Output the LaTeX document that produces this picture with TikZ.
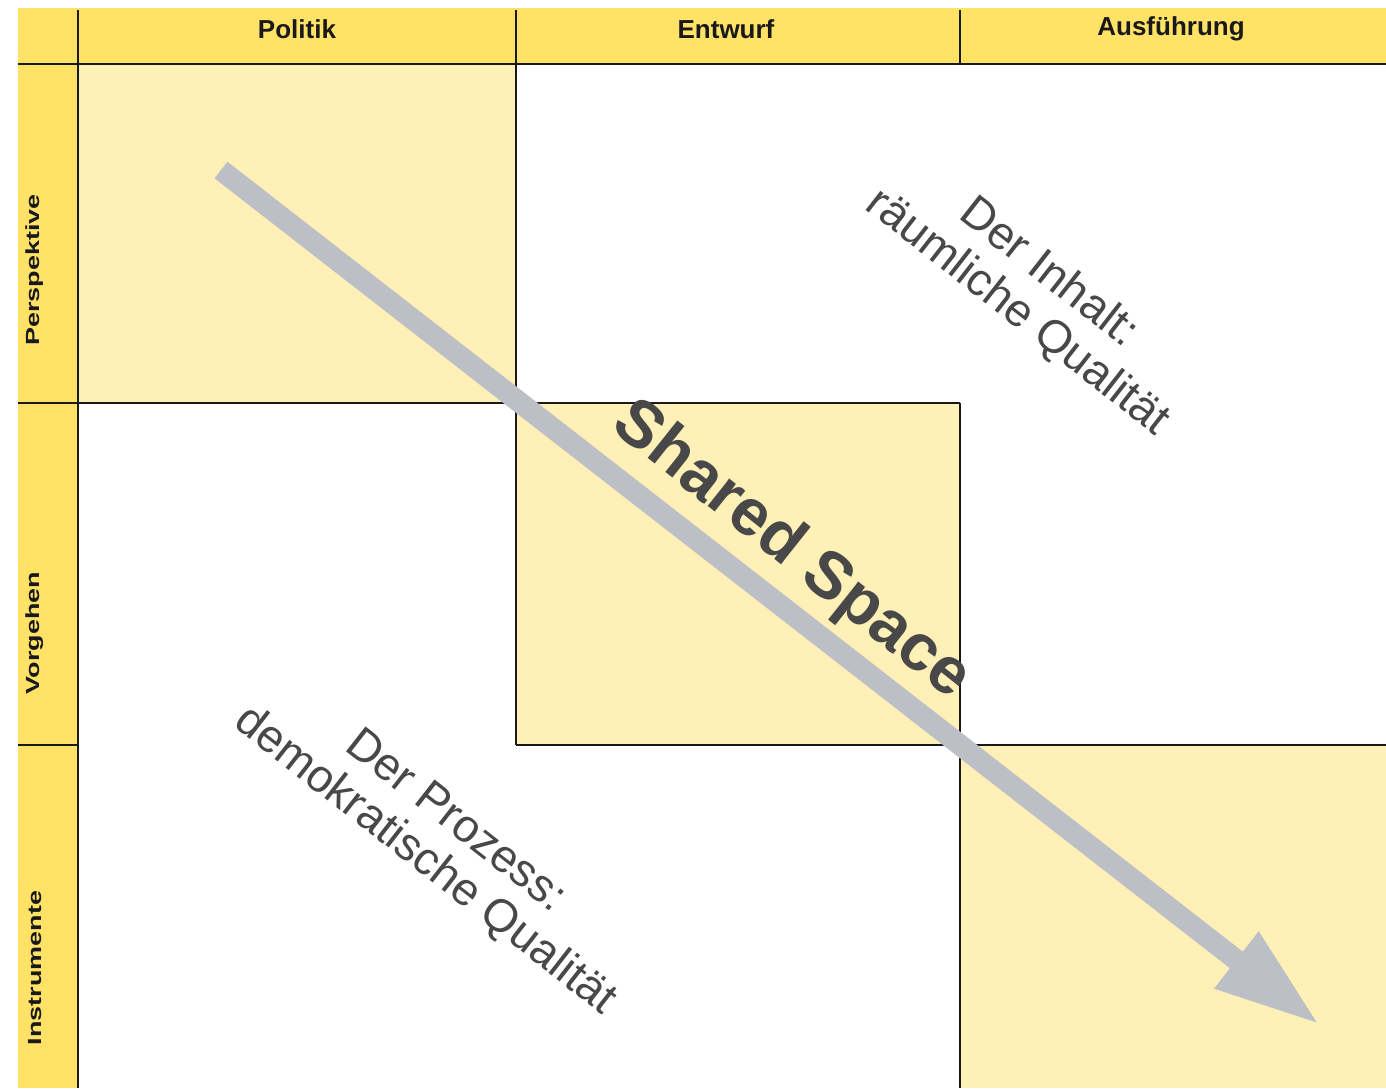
\documentclass[tikz,border=0pt]{standalone}
\usepackage{fontspec}
\setmainfont{Liberation Sans}
\usepackage{xcolor}
\usetikzlibrary{arrows.meta}
\definecolor{bandyellow}{HTML}{FFE266}
\definecolor{cellyellow}{HTML}{FFF0B8}
\definecolor{arrowgrey}{HTML}{BDBFC6}
\definecolor{textgrey}{HTML}{484848}
\tikzset{
    header-label/.style = {font=\fontsize{26}{28}\selectfont\bfseries, text=black!90, inner sep=0pt},
    side-label/.style = {font=\fontsize{19}{21}\selectfont\bfseries, text=black!90, inner sep=0pt, rotate=90, xscale=1.42},
    diagonal-text/.style = {font=\fontsize{46}{50}\selectfont, text=textgrey, align=center, inner sep=0pt, rotate=-38},
    shared-label/.style = {font=\fontsize{66}{70}\selectfont\bfseries, text=textgrey, inner sep=0pt, rotate=-38.5},
    grid-line/.style = {draw=black!90, line width=2.2pt},
    shared-arrow/.style = {draw=arrowgrey, line width=21pt, -{Triangle[width=66pt, length=106pt]}},
}

\begin{document}
\begin{tikzpicture}[x=1pt, y=-1pt]
\useasboundingbox (0,0) rectangle (1386,1088);
% bands and highlighted cells
\fill[bandyellow] (18,8) rectangle (1386,64);
\fill[bandyellow] (18,8) rectangle (78,1088);
\fill[cellyellow] (78,64) rectangle (516,403);
\fill[cellyellow] (516,403) rectangle (960,745);
\fill[cellyellow] (960,745) rectangle (1386,1088);
% grid
\draw[grid-line] (18,64) -- (1386,64);
\draw[grid-line] (78,10) -- (78,1088);
\draw[grid-line] (516,10) -- (516,745);
\draw[grid-line] (960,10) -- (960,64);
\draw[grid-line] (960,403) -- (960,1088);
\draw[grid-line] (18,403) -- (960,403);
\draw[grid-line] (18,745) -- (78,745);
\draw[grid-line] (516,745) -- (1386,745);
% headers
\node[header-label] (politik) at (297,29) {Politik};
\node[header-label] (entwurf) at (726,29) {Entwurf};
\node[header-label] (ausfuehrung) at (1171,29) {Ausführung};
\node[side-label] (perspektive) at (35,270) {Perspektive};
\node[side-label] (vorgehen) at (35,633) {Vorgehen};
\node[side-label] (instrumente) at (35,968) {Instrumente};
% arrow
\coordinate (arrow-start) at (221,170);
\coordinate (arrow-tip) at (1320,1025);
\draw[shared-arrow] (arrow-start) -- (arrow-tip);
% texts
\node[shared-label] (shared) at (791,551) {Shared Space};
\node[diagonal-text] (inhalt) at (1033,293) {Der Inhalt:\\räumliche Qualität};
\node[diagonal-text] (prozess) at (440,842) {Der Prozess:\\demokratische Qualität};
\end{tikzpicture}
\end{document}
